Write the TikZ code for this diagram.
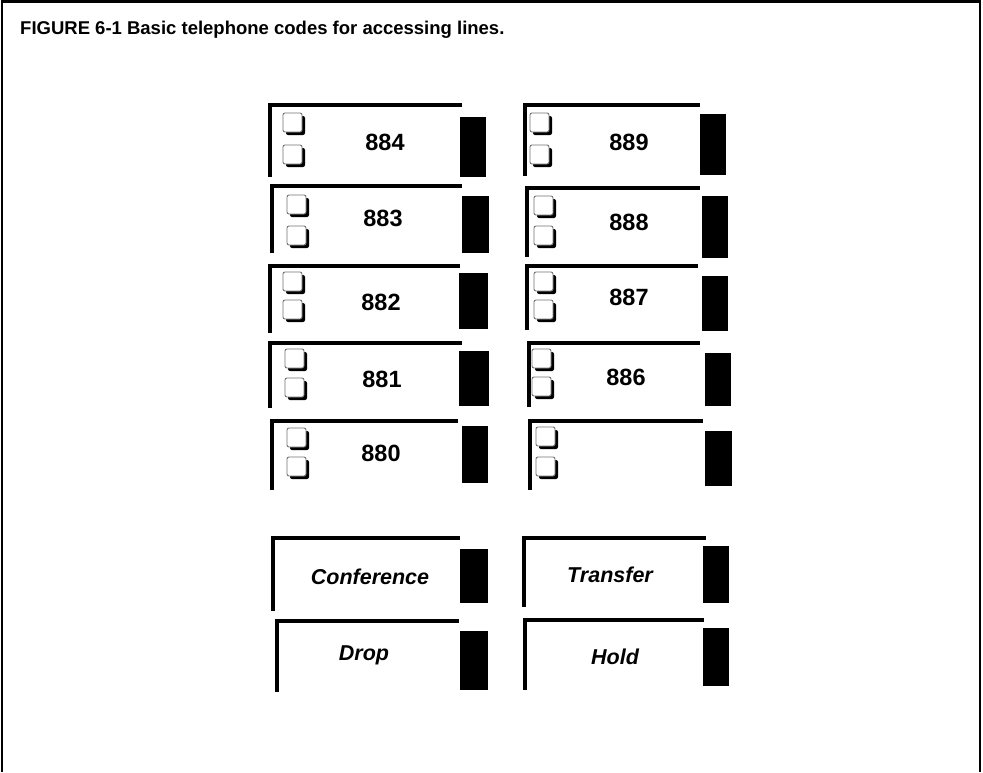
\documentclass[tikz,border=0pt]{standalone}
\usepackage{fontspec}
\setmainfont{Liberation Sans}
\begin{document}
\begin{tikzpicture}[x=1pt,y=-1pt,
  frameline/.style={line width=4pt,line join=miter},
  outerline/.style={line width=2.5pt},
  numlabel/.style={font=\fontsize{23.5}{26}\selectfont\bfseries,inner sep=0pt},
  wordlabel/.style={font=\fontsize{21.5}{24}\selectfont\bfseries\itshape,inner sep=0pt},
  titlelabel/.style={font=\fontsize{18.5}{20}\selectfont\bfseries,inner sep=0pt,anchor=base west}]
\useasboundingbox (0,0) rectangle (983,772);
\fill[white] (0,0) rectangle (983,772);
% outer frame
\draw[outerline] (2,772) -- (2,1.5) -- (980,1.5) -- (980,772);
\node[titlelabel] (title) at (20,34) {FIGURE 6-1 Basic telephone codes for accessing lines.};
% macros
\newcommand\keyframe[8]{%
  \draw[frameline] (#1,#4) -- (#1,#2) -- (#3,#2);
  \fill (#5,#6) rectangle (#7,#8);}
\newcommand\chkbox[2]{%
  \fill[rounded corners=2pt] (#1+3,#2+3) rectangle (#1+22,#2+22);
  \filldraw[fill=white,draw=black!55,line width=0.9pt,rounded corners=2pt] (#1,#2) rectangle (#1+19,#2+19);}
% left column
\keyframe{270}{105}{462}{177}{460}{117}{486}{177}
\chkbox{283}{113}\chkbox{283}{145}
\node[numlabel] (k884) at (385,142) {884};
\keyframe{272}{186}{462}{253}{462}{196}{489}{253}
\chkbox{287}{195}\chkbox{287}{226}
\node[numlabel] (k883) at (383,218) {883};
\keyframe{270}{266}{460}{333}{459}{273}{488}{329}
\chkbox{283}{272}\chkbox{283}{300}
\node[numlabel] (k882) at (381,302) {882};
\keyframe{270}{343}{462}{408}{459}{351}{489}{406}
\chkbox{285}{349}\chkbox{285}{378}
\node[numlabel] (k881) at (382,379) {881};
\keyframe{272}{421}{458}{490}{462}{426}{488}{483}
\chkbox{287}{428}\chkbox{287}{457}
\node[numlabel] (k880) at (381,453) {880};
% right column
\keyframe{525}{105}{700}{176}{700}{114}{726}{175}
\chkbox{530}{113}\chkbox{530}{145}
\node[numlabel] (k889) at (629,142) {889};
\keyframe{527}{188}{700}{257}{702}{196}{728}{258}
\chkbox{534}{196}\chkbox{534}{226}
\node[numlabel] (k888) at (629,222) {888};
\keyframe{527}{266}{698}{330}{702}{276}{728}{331}
\chkbox{534}{272}\chkbox{534}{300}
\node[numlabel] (k887) at (629,297) {887};
\keyframe{529}{343}{700}{407}{705}{353}{731}{406}
\chkbox{532}{349}\chkbox{532}{377}
\node[numlabel] (k886) at (626,377) {886};
\keyframe{530}{421}{703}{490}{705}{431}{732}{486}
\chkbox{536}{427}\chkbox{536}{457}
% function keys
\keyframe{273}{538}{460}{611}{460}{549}{488}{603}
\node[wordlabel] (kconf) at (370,577) {Conference};
\keyframe{277}{621}{459}{692}{460}{631}{488}{690}
\node[wordlabel] (kdrop) at (364,655) {Drop};
\keyframe{524}{538}{706}{607}{703}{546}{729}{603}
\node[wordlabel] (ktrans) at (610,575) {Transfer};
\keyframe{525}{620}{704}{690}{703}{628}{729}{686}
\node[wordlabel] (khold) at (615,657) {Hold};
\end{tikzpicture}
\end{document}
